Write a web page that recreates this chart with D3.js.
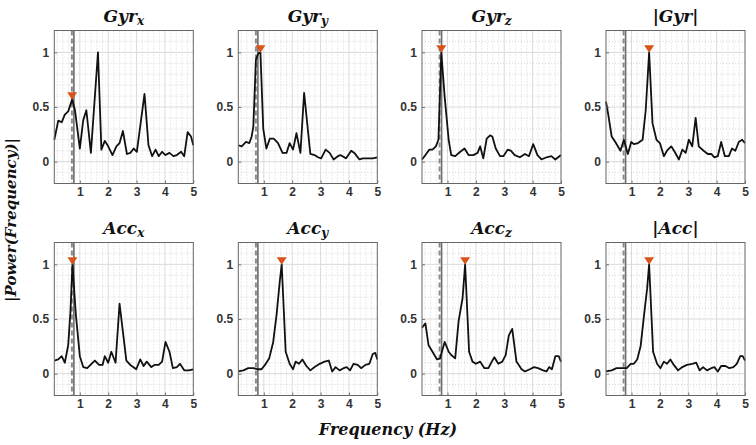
<!DOCTYPE html>
<html>
<head>
<meta charset="utf-8">
<script src="https://cdn.jsdelivr.net/npm/d3@7"></script>
<style>
  body { margin: 0; background: #fff; }
  svg { display: block; }
</style>
</head>
<body>
<svg id="chart" width="756" height="445"></svg>
<script>
// ---------------- DATA ----------------
const titleBase = ["Gyr", "Gyr", "Gyr", "|Gyr|", "Acc", "Acc", "Acc", "|Acc|"];
const titleSub  = ["x", "y", "z", "", "x", "y", "z", ""];
const xTicks = [1, 2, 3, 4, 5];
const yTicks = [0, 0.5, 1];
const yTickLabels = ["0", "0.5", "1"];
const xLabel = "Frequency (Hz)";
const yLabel = "|Power(Frequency)|";

// [frequency (Hz), normalised power]
const gyrX = [[0.1,0.20],[0.24,0.375],[0.36,0.36],[0.47,0.43],[0.59,0.46],[0.73,0.57],[0.83,0.47],[1.0,0.12],[1.12,0.38],[1.23,0.47],[1.39,0.08],[1.64,1.0],[1.76,0.11],[1.88,0.19],[2.0,0.14],[2.15,0.06],[2.29,0.14],[2.4,0.17],[2.52,0.28],[2.66,0.07],[2.78,0.08],[2.9,0.12],[3.01,0.09],[3.28,0.62],[3.42,0.15],[3.55,0.05],[3.67,0.11],[3.78,0.05],[3.9,0.09],[4.02,0.06],[4.16,0.08],[4.3,0.05],[4.42,0.06],[4.57,0.09],[4.68,0.05],[4.8,0.27],[4.92,0.23],[5.0,0.15]];
const gyrY = [[0.1,0.15],[0.22,0.14],[0.37,0.18],[0.49,0.17],[0.57,0.23],[0.63,0.32],[0.72,0.93],[0.8,0.99],[0.88,1.0],[0.98,0.3],[1.09,0.12],[1.21,0.21],[1.35,0.21],[1.5,0.17],[1.66,0.08],[1.8,0.08],[1.91,0.17],[2.03,0.11],[2.15,0.26],[2.29,0.08],[2.42,0.63],[2.64,0.07],[2.79,0.06],[2.91,0.04],[3.02,0.03],[3.18,0.11],[3.32,0.08],[3.46,0.02],[3.61,0.05],[3.7,0.06],[3.9,0.03],[4.08,0.10],[4.19,0.08],[4.37,0.02],[4.49,0.03],[4.66,0.03],[4.84,0.03],[5.0,0.04]];
const gyrZ = [[0.1,0.02],[0.22,0.06],[0.36,0.11],[0.47,0.11],[0.59,0.14],[0.68,0.2],[0.78,1.0],[0.9,0.59],[1.04,0.2],[1.13,0.06],[1.27,0.05],[1.45,0.09],[1.6,0.12],[1.74,0.06],[1.91,0.06],[2.06,0.08],[2.15,0.14],[2.26,0.03],[2.38,0.21],[2.5,0.24],[2.58,0.23],[2.7,0.12],[2.85,0.05],[2.97,0.05],[3.12,0.11],[3.23,0.1],[3.37,0.06],[3.55,0.04],[3.73,0.07],[3.87,0.05],[4.02,0.16],[4.17,0.06],[4.31,0.02],[4.49,0.04],[4.66,0.05],[4.8,0.02],[5.0,0.06]];
const gyrMag = [[0.1,0.55],[0.18,0.43],[0.3,0.23],[0.45,0.17],[0.61,0.1],[0.73,0.2],[0.87,0.07],[0.99,0.18],[1.08,0.16],[1.23,0.17],[1.39,0.2],[1.5,0.47],[1.62,1.0],[1.74,0.35],[1.88,0.2],[2.0,0.17],[2.14,0.05],[2.25,0.1],[2.4,0.14],[2.52,0.09],[2.67,0.02],[2.79,0.11],[2.91,0.08],[3.02,0.2],[3.14,0.14],[3.26,0.4],[3.37,0.14],[3.54,0.1],[3.69,0.07],[3.81,0.07],[3.92,0.04],[4.04,0.05],[4.16,0.18],[4.29,0.05],[4.43,0.05],[4.54,0.12],[4.66,0.1],[4.78,0.18],[4.9,0.2],[5.0,0.17]];
const accX = [[0.1,0.12],[0.24,0.13],[0.36,0.16],[0.47,0.10],[0.59,0.26],[0.67,0.57],[0.74,1.0],[0.86,0.54],[1.0,0.16],[1.12,0.06],[1.26,0.05],[1.41,0.09],[1.53,0.12],[1.68,0.08],[1.8,0.08],[1.88,0.16],[2.0,0.10],[2.11,0.2],[2.26,0.10],[2.4,0.64],[2.64,0.12],[2.78,0.08],[2.99,0.04],[3.13,0.13],[3.25,0.07],[3.36,0.11],[3.52,0.06],[3.63,0.08],[3.78,0.08],[3.9,0.11],[4.02,0.29],[4.16,0.2],[4.28,0.05],[4.42,0.06],[4.53,0.09],[4.68,0.03],[4.84,0.03],[5.0,0.04]];
const accY = [[0.1,0.02],[0.28,0.03],[0.45,0.05],[0.63,0.05],[0.8,0.04],[0.92,0.04],[1.04,0.08],[1.19,0.14],[1.33,0.29],[1.45,0.54],[1.56,0.84],[1.63,1.0],[1.77,0.2],[1.91,0.09],[2.03,0.04],[2.12,0.11],[2.24,0.09],[2.36,0.13],[2.5,0.07],[2.64,0.03],[2.79,0.06],[2.97,0.09],[3.14,0.11],[3.29,0.12],[3.41,0.02],[3.53,0.06],[3.67,0.03],[3.81,0.05],[3.92,0.06],[4.04,0.03],[4.16,0.09],[4.31,0.08],[4.43,0.05],[4.58,0.08],[4.72,0.09],[4.84,0.18],[4.93,0.19],[5.0,0.13]];
const accZ = [[0.1,0.42],[0.22,0.46],[0.33,0.26],[0.45,0.21],[0.63,0.13],[0.74,0.14],[0.8,0.2],[0.9,0.29],[1.04,0.2],[1.13,0.17],[1.27,0.14],[1.39,0.48],[1.53,0.69],[1.62,1.0],[1.76,0.2],[1.88,0.11],[2.0,0.09],[2.15,0.11],[2.3,0.05],[2.44,0.05],[2.56,0.11],[2.65,0.15],[2.79,0.09],[2.93,0.11],[3.05,0.17],[3.16,0.35],[3.28,0.41],[3.43,0.11],[3.61,0.04],[3.73,0.02],[3.9,0.04],[4.05,0.06],[4.19,0.05],[4.37,0.03],[4.49,0.02],[4.58,0.06],[4.68,0.04],[4.8,0.16],[4.92,0.16],[5.0,0.11]];
const accMag = [[0.1,0.02],[0.3,0.03],[0.47,0.05],[0.65,0.05],[0.83,0.05],[0.97,0.09],[1.08,0.09],[1.2,0.13],[1.32,0.25],[1.43,0.51],[1.55,0.78],[1.62,1.0],[1.76,0.2],[1.9,0.09],[2.02,0.05],[2.14,0.11],[2.25,0.09],[2.37,0.13],[2.49,0.08],[2.64,0.03],[2.79,0.06],[2.95,0.08],[3.14,0.09],[3.28,0.10],[3.4,0.03],[3.52,0.06],[3.66,0.03],[3.81,0.05],[3.92,0.06],[4.04,0.02],[4.16,0.07],[4.31,0.07],[4.45,0.05],[4.59,0.06],[4.71,0.09],[4.83,0.16],[4.92,0.16],[5.0,0.12]];

const peakFreq = [0.73, 0.88, 0.78, 1.62, 0.74, 1.63, 1.62, 1.62];
const peakPow  = [0.57, 1.0, 1.0, 1.0, 1.0, 1.0, 1.0, 1.0];
const cutoffDashed = 0.72;
const cutoffSolid = 0.79;
const xDomain = [0.1, 5];
const yDomain = [-0.2, 1.2];

const series = [gyrX, gyrY, gyrZ, gyrMag, accX, accY, accZ, accMag];

// ---------------- LAYOUT ----------------
const svg = d3.select("#chart");
const pw = 139, ph = 153;
const colLeft = [54.3, 238.3, 422, 606];
const rowTop = [30.5, 242.5];

const x = d3.scaleLinear().domain(xDomain).range([0, pw]);
const y = d3.scaleLinear().domain(yDomain).range([ph, 0]);

const minorX = d3.range(0.2, 5.0001, 0.2).map(v => +v.toFixed(2)).filter(v => Math.abs(v - Math.round(v)) > 1e-6);
const minorY = d3.range(-0.1, 1.2, 0.1).map(v => +v.toFixed(2)).filter(v => ![0, 0.5, 1].includes(v));

series.forEach((data, i) => {
  const g = svg.append("g")
    .attr("transform", `translate(${colLeft[i % 4]},${rowTop[Math.floor(i / 4)]})`);

  // minor grid
  g.selectAll(".mgx").data(minorX).enter().append("line")
    .attr("x1", d => x(d)).attr("x2", d => x(d)).attr("y1", 0).attr("y2", ph)
    .attr("stroke", "#c4c4c4").attr("stroke-width", 0.7).attr("stroke-dasharray", "1,2");
  g.selectAll(".mgy").data(minorY).enter().append("line")
    .attr("y1", d => y(d)).attr("y2", d => y(d)).attr("x1", 0).attr("x2", pw)
    .attr("stroke", "#c4c4c4").attr("stroke-width", 0.7).attr("stroke-dasharray", "1,2");
  // major grid
  g.selectAll(".gx").data(xTicks.filter(v => v < 5)).enter().append("line")
    .attr("x1", d => x(d)).attr("x2", d => x(d)).attr("y1", 0).attr("y2", ph)
    .attr("stroke", "#dadada").attr("stroke-width", 1);
  g.selectAll(".gy").data(yTicks).enter().append("line")
    .attr("y1", d => y(d)).attr("y2", d => y(d)).attr("x1", 0).attr("x2", pw)
    .attr("stroke", "#dadada").attr("stroke-width", 1);

  // cutoff lines
  g.append("line")
    .attr("x1", x(cutoffSolid)).attr("x2", x(cutoffSolid)).attr("y1", 0).attr("y2", ph)
    .attr("stroke", "#6e6e6e").attr("stroke-width", 1.6);
  g.append("line")
    .attr("x1", x(cutoffDashed)).attr("x2", x(cutoffDashed)).attr("y1", 0).attr("y2", ph)
    .attr("stroke", "#8a8a8a").attr("stroke-width", 2).attr("stroke-dasharray", "5,3");

  // series line
  g.append("path")
    .datum(data)
    .attr("fill", "none")
    .attr("stroke", "#111")
    .attr("stroke-width", 1.8)
    .attr("stroke-linejoin", "round")
    .attr("d", d3.line().x(d => x(d[0])).y(d => y(d[1])));

  // peak marker (downward triangle)
  const px = x(peakFreq[i]), py = y(peakPow[i]);
  g.append("path")
    .attr("d", `M${px - 5},${py - 7}L${px + 5},${py - 7}L${px},${py + 0.5}Z`)
    .attr("fill", "#D95319");

  // axes
  const xa = g.append("g").attr("transform", `translate(0,${ph})`)
    .call(d3.axisBottom(x).tickValues(xTicks).tickSizeInner(-3).tickSizeOuter(0).tickPadding(4).tickFormat(d3.format("d")));
  const ya = g.append("g")
    .call(d3.axisLeft(y).tickValues(yTicks).tickSizeInner(-3).tickSizeOuter(0).tickPadding(5)
      .tickFormat((d, k) => yTickLabels[k]));
  [xa, ya].forEach(a => {
    a.select(".domain").remove();
    a.selectAll(".tick line").attr("stroke", "#555").attr("stroke-width", 0.8);
    a.selectAll(".tick text")
      .attr("font-family", "'Liberation Sans', Arial, sans-serif")
      .attr("font-weight", "bold").attr("font-size", 12).attr("fill", "#333");
  });

  // box
  g.append("rect").attr("x", 0).attr("y", 0).attr("width", pw).attr("height", ph)
    .attr("fill", "none").attr("stroke", "#666").attr("stroke-width", 1);

  // title
  const t = g.append("text")
    .attr("x", pw / 2).attr("y", -9)
    .attr("text-anchor", "middle")
    .attr("font-family", "'DejaVu Serif', serif")
    .attr("font-style", "italic").attr("font-weight", "bold")
    .attr("font-size", 17).attr("fill", "#111");
  t.append("tspan").text(titleBase[i]);
  if (titleSub[i]) {
    t.append("tspan").attr("font-size", 12).attr("dy", 3).text(titleSub[i]);
  }
});

// global axis labels
svg.append("text")
  .attr("x", 388).attr("y", 435)
  .attr("text-anchor", "middle")
  .attr("font-family", "'DejaVu Serif', serif")
  .attr("font-style", "italic").attr("font-weight", "bold")
  .attr("font-size", 16).attr("fill", "#111")
  .text(xLabel);

svg.append("text")
  .attr("transform", "translate(16,220) rotate(-90)")
  .attr("text-anchor", "middle")
  .attr("font-family", "'DejaVu Serif', serif")
  .attr("font-style", "italic").attr("font-weight", "bold")
  .attr("font-size", 15).attr("fill", "#111")
  .text(yLabel);
</script>
</body>
</html>
